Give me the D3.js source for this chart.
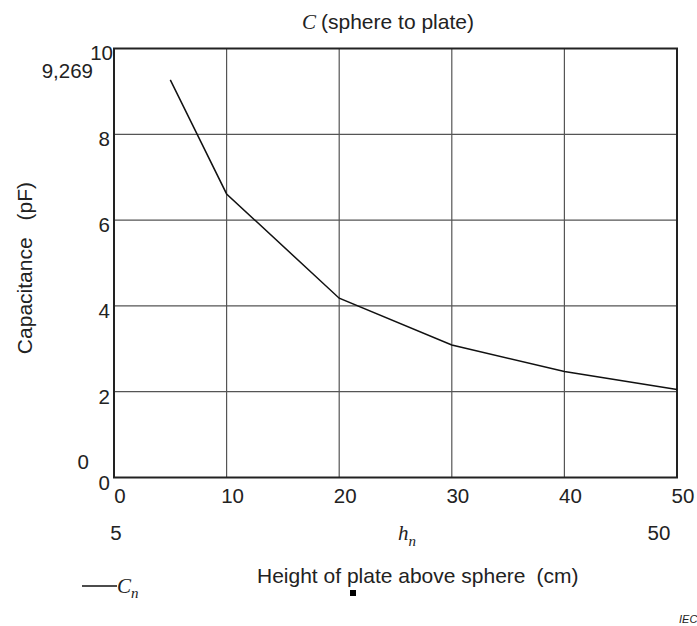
<!DOCTYPE html>
<html>
<head>
<meta charset="utf-8">
<script src="https://cdn.jsdelivr.net/npm/d3@7"></script>
<style>
  body { margin: 0; background: #fff; }
  svg { display: block; }
  text { font-family: "Liberation Sans", Arial, sans-serif; fill: #222; }
  .it { font-family: "Liberation Serif", "Times New Roman", serif; font-style: italic; }
  .grid line { stroke: #555; stroke-width: 1.2; }
</style>
</head>
<body>
<svg id="chart" width="697" height="626"></svg>
<script>
// height of plate above sphere (cm) vs capacitance (pF)
var heights = [5, 10, 20, 30, 40, 50];
var capacitance = [9.269, 6.61, 4.18, 3.09, 2.47, 2.05];
var xTicks = [0, 10, 20, 30, 40, 50];
var yTicks = [0, 2, 4, 6, 8, 10];

var svg = d3.select("#chart");
var plotL = 114, plotR = 677, plotT = 48.5, plotB = 477.5;

var x = d3.scaleLinear().domain([0, 50]).range([plotL, plotR]);
var y = d3.scaleLinear().domain([0, 10]).range([plotB, plotT]);

// grid
var grid = svg.append("g").attr("class", "grid");
grid.selectAll(".vx").data(xTicks.slice(1, -1)).enter().append("line")
  .attr("x1", function (d) { return x(d); }).attr("x2", function (d) { return x(d); })
  .attr("y1", plotT).attr("y2", plotB);
grid.selectAll(".hy").data(yTicks.slice(1, -1)).enter().append("line")
  .attr("y1", function (d) { return y(d); }).attr("y2", function (d) { return y(d); })
  .attr("x1", plotL).attr("x2", plotR);

// frame
svg.append("rect")
  .attr("x", plotL).attr("y", plotT)
  .attr("width", plotR - plotL).attr("height", plotB - plotT)
  .attr("fill", "none").attr("stroke", "#222").attr("stroke-width", 2);

// y tick labels
svg.append("g").selectAll("text").data(yTicks).enter().append("text")
  .attr("x", function (d) { return d === 10 ? 113 : 110; })
  .attr("y", function (d) { return y(d) + (d === 10 ? 11 : 12); })
  .attr("text-anchor", "end")
  .attr("font-size", 20.5)
  .text(function (d) { return d; });

// x tick labels
svg.append("g").selectAll("text").data(xTicks).enter().append("text")
  .attr("x", function (d) { return x(d) + 6; })
  .attr("y", 503)
  .attr("text-anchor", "middle")
  .attr("font-size", 20.5)
  .text(function (d) { return d; });

// extra annotations
svg.append("text").attr("x", 93).attr("y", 78).attr("text-anchor", "end")
  .attr("font-size", 20.5).text("9,269");
svg.append("text").attr("x", 89).attr("y", 469).attr("text-anchor", "end")
  .attr("font-size", 20.5).text("0");
svg.append("text").attr("x", 116).attr("y", 540)
  .attr("text-anchor", "middle").attr("font-size", 20.5).text(heights[0]);
svg.append("text").attr("x", 659).attr("y", 540)
  .attr("text-anchor", "middle").attr("font-size", 20.5).text(heights[heights.length - 1]);

var hn = svg.append("text").attr("class", "it").attr("x", 398).attr("y", 540).attr("font-size", 21);
hn.append("tspan").text("h");
hn.append("tspan").attr("dy", 6).attr("font-size", 15).text("n");

// curve
var line = d3.line()
  .x(function (d, i) { return x(heights[i]); })
  .y(function (d) { return y(d); });
svg.append("path").datum(capacitance)
  .attr("d", line)
  .attr("fill", "none").attr("stroke", "#111").attr("stroke-width", 1.5);

// title
var title = svg.append("text").attr("x", 302).attr("y", 29).attr("font-size", 21);
title.append("tspan").attr("class", "it").text("C");
title.append("tspan").attr("dx", 5).text("(sphere to plate)");

// axis labels
var yl = svg.append("text")
  .attr("transform", "translate(32,268) rotate(-90)")
  .attr("text-anchor", "middle").attr("font-size", 21);
yl.append("tspan").text("Capacitance");
yl.append("tspan").attr("dx", 17).text("(pF)");

var xl = svg.append("text").attr("x", 257).attr("y", 583).attr("font-size", 21);
xl.append("tspan").text("Height of plate above sphere");
xl.append("tspan").attr("dx", 11).text("(cm)");

svg.append("rect").attr("x", 350).attr("y", 590).attr("width", 6).attr("height", 6).attr("fill", "#000");

// legend
svg.append("line").attr("x1", 82).attr("x2", 117).attr("y1", 586).attr("y2", 586)
  .attr("stroke", "#111").attr("stroke-width", 1.5);
var lg = svg.append("text").attr("class", "it").attr("x", 117).attr("y", 593).attr("font-size", 21);
lg.append("tspan").text("C");
lg.append("tspan").attr("dy", 5).attr("font-size", 15).text("n");

svg.append("text").attr("x", 679).attr("y", 623).attr("font-size", 11)
  .attr("font-style", "italic").text("IEC");
</script>
</body>
</html>
